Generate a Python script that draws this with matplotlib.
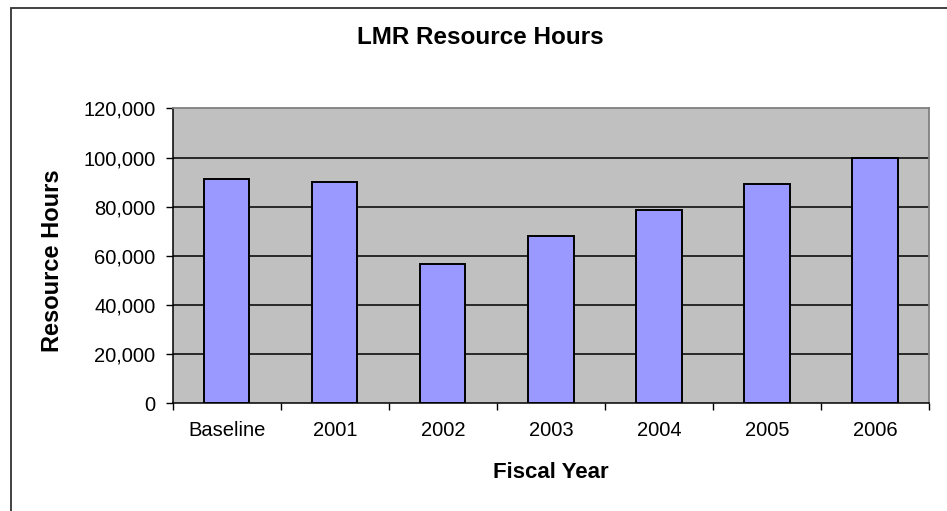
import matplotlib
matplotlib.use("Agg")
import matplotlib.pyplot as plt
from matplotlib.patches import Rectangle
from matplotlib.ticker import FuncFormatter, FixedLocator

categories = ["Baseline", "2001", "2002", "2003", "2004", "2005", "2006"]
hours = [91400, 89900, 56800, 68200, 78600, 89200, 100000]
yticks = [0, 20000, 40000, 60000, 80000, 100000, 120000]

plt.rcParams['font.family'] = ['Liberation Sans', 'DejaVu Sans']

W, H = 947, 511
fig = plt.figure(figsize=(W / 100, H / 100), dpi=100)
fig.patch.set_facecolor('white')

# outer chart-area border (cut at right and bottom)
fig.patches.append(Rectangle((10.7 / W, -0.1), 1.2, 1 - 8.3 / H + 0.1,
                             transform=fig.transFigure, fill=False,
                             edgecolor='#333333', linewidth=1.3))

left, right, top, bottom = 172.7, 929, 108.5, 403
ax = fig.add_axes([left / W, 1 - bottom / H, (right - left) / W, (bottom - top) / H])
ax.set_facecolor('#C0C0C0')

x = list(range(len(categories)))
ax.bar(x, hours, width=0.42, color='#9999FF', edgecolor='black', linewidth=1.4, zorder=3)

ax.set_xlim(-0.5, len(categories) - 0.5)
ax.set_ylim(0, 120000)
ax.set_yticks(yticks)
ax.yaxis.set_major_formatter(FuncFormatter(lambda v, p: f"{int(v):,}"))
for v in yticks[1:-1]:
    ax.axhline(v, color='black', linewidth=1.1, zorder=2)

ax.set_xticks(x)
ax.set_xticklabels(categories, fontsize=14.5)
ax.tick_params(axis='x', which='major', length=0, pad=13)
ax.xaxis.set_minor_locator(FixedLocator([i - 0.5 for i in range(len(categories) + 1)]))
ax.tick_params(axis='x', which='minor', length=5, width=1, color='black', direction='out')
ax.tick_params(axis='y', length=5, width=1, color='black', direction='out', labelsize=14.5, pad=7.5)

for s in ['top', 'right']:
    ax.spines[s].set_color('#808080')
    ax.spines[s].set_linewidth(1.3)
ax.spines['left'].set_color('black')
ax.spines['bottom'].set_color('black')
ax.spines['left'].set_linewidth(1.1)
ax.spines['bottom'].set_linewidth(1.1)

ax.set_ylabel("Resource Hours", fontsize=17, fontweight='bold')
ax.yaxis.set_label_coords((52 - left) / (right - left), (bottom - 261) / (bottom - top))
ax.set_xlabel("Fiscal Year", fontsize=16, fontweight='bold')
ax.xaxis.set_label_coords(0.5, (bottom - 472) / (bottom - top))
ax.xaxis.label.set_va('center')
ax.yaxis.label.set_va('center')

fig.text(480.5 / W, 1 - 38 / H, "LMR Resource Hours", fontsize=17.5, fontweight='bold',
         ha='center', va='center')

fig.savefig("out.png", dpi=100)
